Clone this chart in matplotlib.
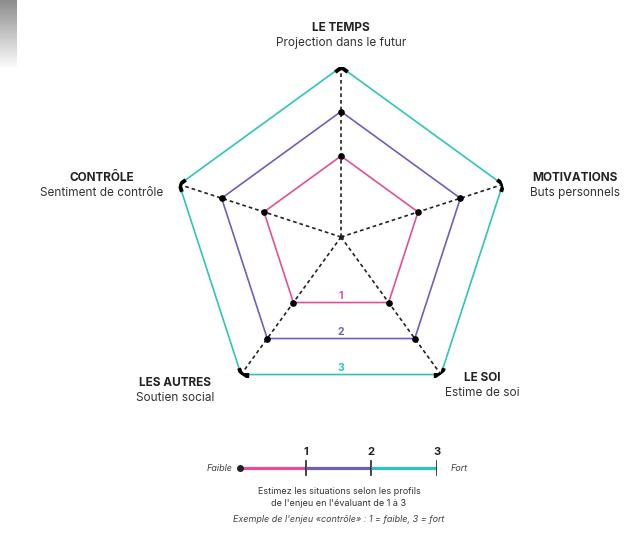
import numpy as np
import matplotlib
matplotlib.use("Agg")
import matplotlib.pyplot as plt
from matplotlib.markers import MarkerStyle
from matplotlib.path import Path
from matplotlib.transforms import Affine2D

plt.rcParams['font.family'] = ['Inter', 'DejaVu Sans']

# axes of the radar, clockwise from the top
axes_titles = ["LE TEMPS", "MOTIVATIONS", "LE SOI", "LES AUTRES", "CONTRÔLE"]
axes_subtitles = ["Projection dans le futur", "Buts personnels", "Estime de soi",
                  "Soutien social", "Sentiment de contrôle"]
levels = [1, 2, 3]
level_labels = ["1", "2", "3"]
level_colors = ["#e0509a", "#6c60b8", "#2ec4bc"]

fig = plt.figure(figsize=(6.41, 5.33), dpi=100)

# grey smear in the top left corner of the scan
corner = fig.add_axes([0, 1 - 70 / 533, 17 / 641, 70 / 533])
corner.imshow(np.linspace(0.55, 1.0, 50).reshape(-1, 1), cmap="gray", vmin=0, vmax=1,
              aspect="auto")
corner.axis("off")

# radar
ax = fig.add_axes([171 / 641, 126 / 533, 340 / 641, 340 / 533], projection="polar")
ax.set_theta_offset(np.pi / 2)
ax.set_theta_direction(-1)
rmin = -0.82
ax.set_ylim(rmin, 3)
ax.axis("off")

n = len(axes_titles)
theta = np.arange(n) * 2 * np.pi / n
theta_closed = np.append(theta, theta[0])

# dashed spokes
for t in theta:
    ax.plot([t, t], [rmin, 3], color="#222222", lw=1.2, ls=(0, (2.2, 1.8)), zorder=2)
ax.plot([0], [rmin], "o", color="#222222", ms=2.5, zorder=3)

for lev, col in zip(levels, level_colors):
    ax.plot(theta_closed, [lev] * (n + 1), color=col, lw=1.2, zorder=1)
    if lev < 3:
        ax.plot(theta, [lev] * n, "o", color="black", ms=3.8, zorder=4)

# chevron caps at the outer corners
chev = Path([(-0.809, -0.588), (0, 0), (0.809, -0.588)])
for k, t in enumerate(theta):
    m = MarkerStyle(chev, fillstyle="none", transform=Affine2D().rotate_deg(-72 * k),
                    capstyle="butt", joinstyle="miter")
    ax.plot([t], [3], marker=m, color="black", ms=9, mew=2.8, zorder=5)

# level numbers on the bottom edge
r_mid = [(lev - rmin) * np.cos(np.pi / 5) + rmin for lev in levels]
for lev, rm, lab, col in zip(levels, r_mid, level_labels, level_colors):
    ax.text(np.pi, rm - 0.14, lab, color=col, fontsize=7.5, fontweight="bold",
            ha="center", va="center")

# axis labels (figure coords)
label_pos = [(341, 28), (575, 178), (482, 378), (175, 383), (102, 178)]
for (x, y), tt, st in zip(label_pos, axes_titles, axes_subtitles):
    fig.text(x / 641, 1 - y / 533, tt, fontsize=8.5, fontweight="bold", color="#222222",
             ha="center", va="center")
    fig.text(x / 641, 1 - (y + 15) / 533, st, fontsize=8.5, color="#333333",
             ha="center", va="center")

# scale legend
lg = fig.add_axes([240 / 641, 1 - 485 / 533, 197 / 641, 40 / 533])
lg.set_xlim(0, 3)
lg.set_ylim(0, 1)
lg.axis("off")
prev = 0
for lev, lab, col in zip(levels, level_labels, level_colors):
    lg.plot([prev, lev], [0.42, 0.42], color=col, lw=2.3, solid_capstyle="butt")
    lg.plot([lev, lev], [0.25, 0.6], color="#222222", lw=1.2)
    lg.text(lev, 0.82, lab, fontsize=8, fontweight="bold", ha="center", va="center",
            color="#222222")
    prev = lev
lg.plot([0], [0.42], "o", color="#222222", ms=4, clip_on=False)
lg.text(-0.12, 0.42, "Faible", fontsize=6.5, style="italic", ha="right", va="center",
        color="#444444")
lg.text(0.2 + 3, 0.42, "Fort", fontsize=6.5, style="italic", ha="left", va="center",
        color="#444444")

fig.text(339 / 641, 1 - 492 / 533, "Estimez les situations selon les profils", fontsize=6.5,
         ha="center", va="center", color="#333333")
fig.text(339 / 641, 1 - 503 / 533, "de l'enjeu en l'évaluant de 1 à 3", fontsize=6.5,
         ha="center", va="center", color="#333333")
fig.text(339 / 641, 1 - 519 / 533, "Exemple de l'enjeu «contrôle» : 1 = faible, 3 = fort",
         fontsize=6.5, style="italic", ha="center", va="center", color="#444444")

fig.savefig("out.png", dpi=100)
